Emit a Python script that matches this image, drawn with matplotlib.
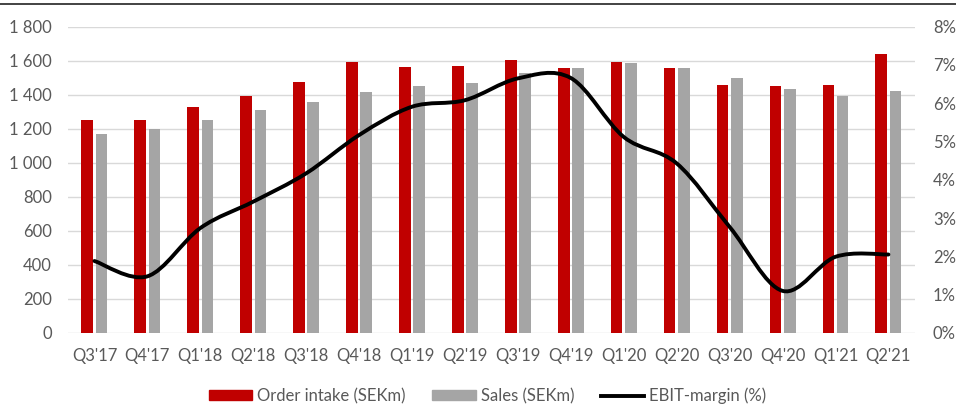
import numpy as np
import matplotlib
matplotlib.use("Agg")
import matplotlib.pyplot as plt
from matplotlib.path import Path
from matplotlib.patches import PathPatch, Patch
from matplotlib.lines import Line2D
from matplotlib.ticker import FuncFormatter, MultipleLocator

plt.rcParams['font.family'] = ['Lato', 'DejaVu Sans']

# data
quarters = ["Q3'17", "Q4'17", "Q1'18", "Q2'18", "Q3'18", "Q4'18", "Q1'19", "Q2'19",
            "Q3'19", "Q4'19", "Q1'20", "Q2'20", "Q3'20", "Q4'20", "Q1'21", "Q2'21"]
order_intake = [1251, 1251, 1330, 1392, 1473, 1592, 1563, 1570,
                1604, 1555, 1592, 1555, 1457, 1449, 1457, 1641]
sales = [1167, 1200, 1251, 1310, 1359, 1416, 1451, 1471,
         1526, 1555, 1585, 1555, 1498, 1434, 1392, 1422]
ebit_margin = [1.88, 1.48, 2.74, 3.43, 4.17, 5.17, 5.91, 6.08,
               6.65, 6.66, 5.12, 4.43, 2.77, 1.10, 1.99, 2.05]

RED = "#c00000"
GREY = "#a5a5a5"
TXT = "#595959"
GRID = "#d9d9d9"
FS = 12

fig = plt.figure(figsize=(9.56, 4.05), dpi=100)
ax = fig.add_axes([0.0711, 0.1778, 0.8859, 0.7563])
ax2 = ax.twinx()

x = np.arange(len(quarters))
w = 0.22
ax.bar(x - 0.135, order_intake, w, color=RED, zorder=2)
ax.bar(x + 0.135, sales, w, color=GREY, zorder=2)

ax.set_xlim(-0.5, len(quarters) - 0.5)
ax.set_ylim(0, 1800)
ax.yaxis.set_major_locator(MultipleLocator(200))
ax.yaxis.set_major_formatter(FuncFormatter(lambda v, p: f"{int(v):,}".replace(",", " ")))
ax.grid(axis='y', color=GRID, lw=1.0, zorder=0)
ax.set_axisbelow(True)
ax.set_xticks(x)
ax.set_xticklabels(quarters)
ax.tick_params(length=0, labelsize=FS, labelcolor=TXT)
ax.tick_params(axis='x', pad=11)
ax.tick_params(axis='y', pad=11.5)

# smoothed line, excel style bezier through the data points
pts = np.column_stack([x, ebit_margin])
verts = [pts[0]]
codes = [Path.MOVETO]
n = len(pts)
for i in range(n - 1):
    p0 = pts[max(i - 1, 0)]
    p1 = pts[i]
    p2 = pts[i + 1]
    p3 = pts[min(i + 2, n - 1)]
    verts += [p1 + (p2 - p0) / 6.0, p2 - (p3 - p1) / 6.0, p2]
    codes += [Path.CURVE4] * 3
ax2.add_patch(PathPatch(Path(verts, codes), fill=False, edgecolor="black",
                        lw=2.8, capstyle='round', joinstyle='round', zorder=3))

ax2.set_ylim(0, 8)
ax2.yaxis.set_major_locator(MultipleLocator(1))
ax2.yaxis.set_major_formatter(FuncFormatter(lambda v, p: f"{int(v)}%"))
ax2.tick_params(length=0, labelsize=FS, labelcolor=TXT, pad=13)

for a in (ax, ax2):
    for s in a.spines.values():
        s.set_visible(False)

handles = [Patch(color=RED), Patch(color=GREY), Line2D([0], [0], color="black", lw=2.8)]
labels = ["Order intake (SEKm)", "Sales (SEKm)", "EBIT-margin (%)"]
leg = fig.legend(handles, labels, loc='center', bbox_to_anchor=(0.51, 0.022), ncol=3,
                 frameon=False, fontsize=FS, handlelength=2.6, handleheight=0.55,
                 columnspacing=1.6, handletextpad=0.3)
for t in leg.get_texts():
    t.set_color(TXT)

# rule across the top of the image
fig.add_artist(Line2D([0, 1], [0.99, 0.99], color="#222222", lw=1.2))

fig.savefig("out.png", dpi=100)
